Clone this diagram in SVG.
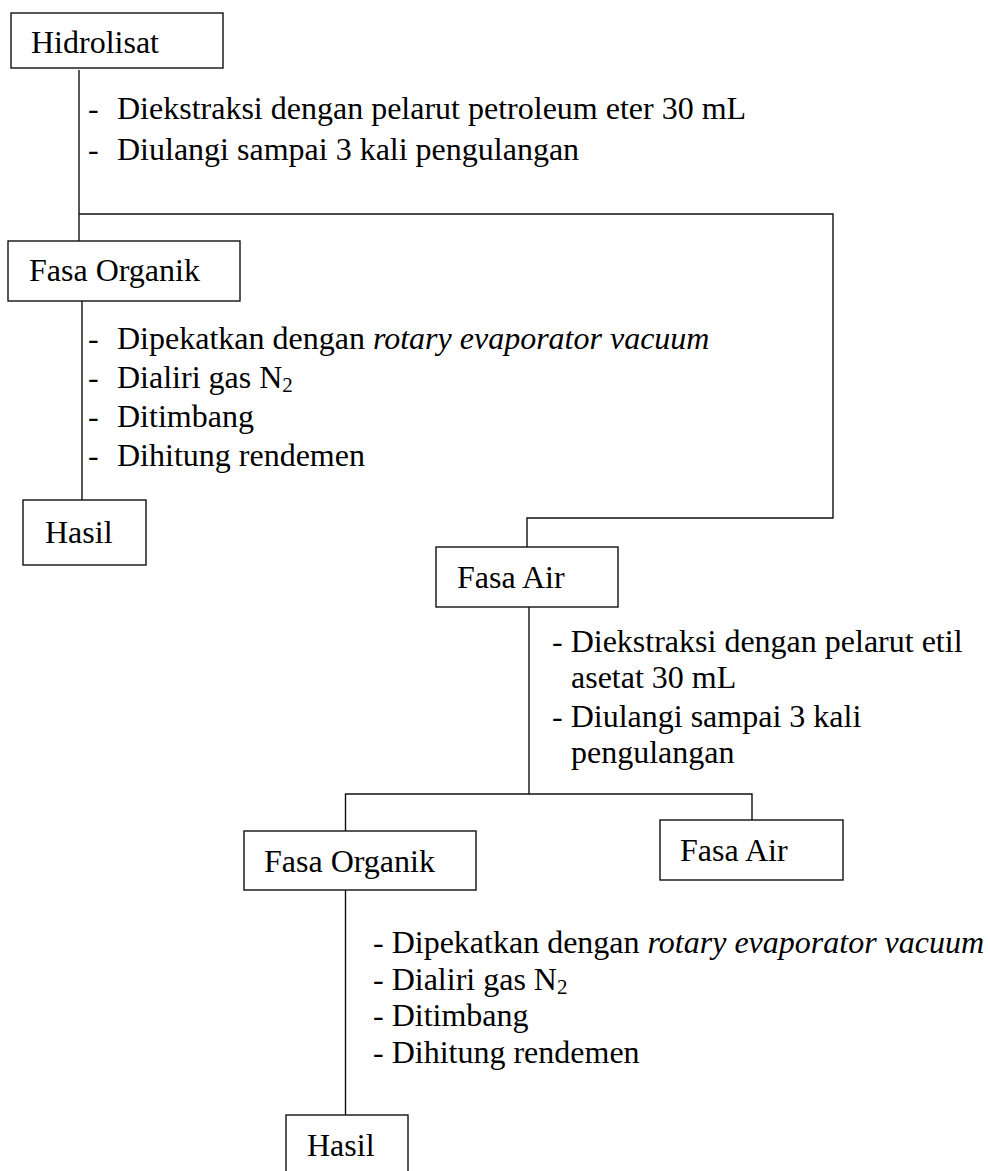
<svg xmlns="http://www.w3.org/2000/svg" width="990" height="1171" viewBox="0 0 990 1171">
<style>
.box{fill:#fff;stroke:#111;stroke-width:1.4}
.ln{fill:none;stroke:#111;stroke-width:1.4}
.t{font-family:'Liberation Serif','Times New Roman',Times,serif;font-size:32px;fill:#000}
.it{font-style:italic}
.sub{font-size:21px}
</style>
<rect width="990" height="1171" fill="#fff"/>
<g id="connectors">
<path class="ln" d="M79 70 V241"/>
<path class="ln" d="M79 214 H833 V518 H527 V547"/>
<path class="ln" d="M82 301 V500"/>
<path class="ln" d="M529 607 V794"/>
<path class="ln" d="M345.5 831 V794 H752 V820"/>
<path class="ln" d="M345.5 890 V1115"/>
</g>
<g class="t" font-family="Liberation Serif, Times New Roman, serif">
<g id="n-hidrolisat">
<rect class="box" x="11" y="13" width="212" height="55"/>
<text x="31" y="53">Hidrolisat</text>
</g>
<g id="t-step1">
<text x="88" y="119">-</text><text x="117" y="119">Diekstraksi dengan pelarut petroleum eter 30 mL</text>
<text x="88" y="160">-</text><text x="117" y="160">Diulangi sampai 3 kali pengulangan</text>
</g>
<g id="n-fasa-organik-1">
<rect class="box" x="8" y="241" width="232" height="60"/>
<text x="29" y="281">Fasa Organik</text>
</g>
<g id="t-step2">
<text x="88" y="349">-</text><text x="117" y="349">Dipekatkan dengan <tspan class="it">rotary evaporator vacuum</tspan></text>
<text x="88" y="388">-</text><text x="117" y="388">Dialiri gas N<tspan class="sub" dy="4">2</tspan></text>
<text x="88" y="427">-</text><text x="117" y="427">Ditimbang</text>
<text x="88" y="466">-</text><text x="117" y="466">Dihitung rendemen</text>
</g>
<g id="n-hasil-1">
<rect class="box" x="23" y="500" width="123" height="65"/>
<text x="45" y="543">Hasil</text>
</g>
<g id="n-fasa-air-1">
<rect class="box" x="436" y="547" width="182" height="60"/>
<text x="457" y="588">Fasa Air</text>
</g>
<g id="t-step3">
<text x="552" y="652">- Diekstraksi dengan pelarut etil</text>
<text x="571" y="688">asetat 30 mL</text>
<text x="552" y="727">- Diulangi sampai 3 kali</text>
<text x="571" y="763">pengulangan</text>
</g>
<g id="n-fasa-organik-2">
<rect class="box" x="244" y="831" width="232" height="59"/>
<text x="264" y="872">Fasa Organik</text>
</g>
<g id="n-fasa-air-2">
<rect class="box" x="660" y="820" width="183" height="60"/>
<text x="680" y="861">Fasa Air</text>
</g>
<g id="t-step4">
<text x="373" y="953">- Dipekatkan dengan <tspan class="it">rotary evaporator vacuum</tspan></text>
<text x="373" y="990">- Dialiri gas N<tspan class="sub" dy="4">2</tspan></text>
<text x="373" y="1026">- Ditimbang</text>
<text x="373" y="1063">- Dihitung rendemen</text>
</g>
<g id="n-hasil-2">
<rect class="box" x="286" y="1115" width="122" height="62"/>
<text x="307" y="1156">Hasil</text>
</g>
</g>
</svg>
